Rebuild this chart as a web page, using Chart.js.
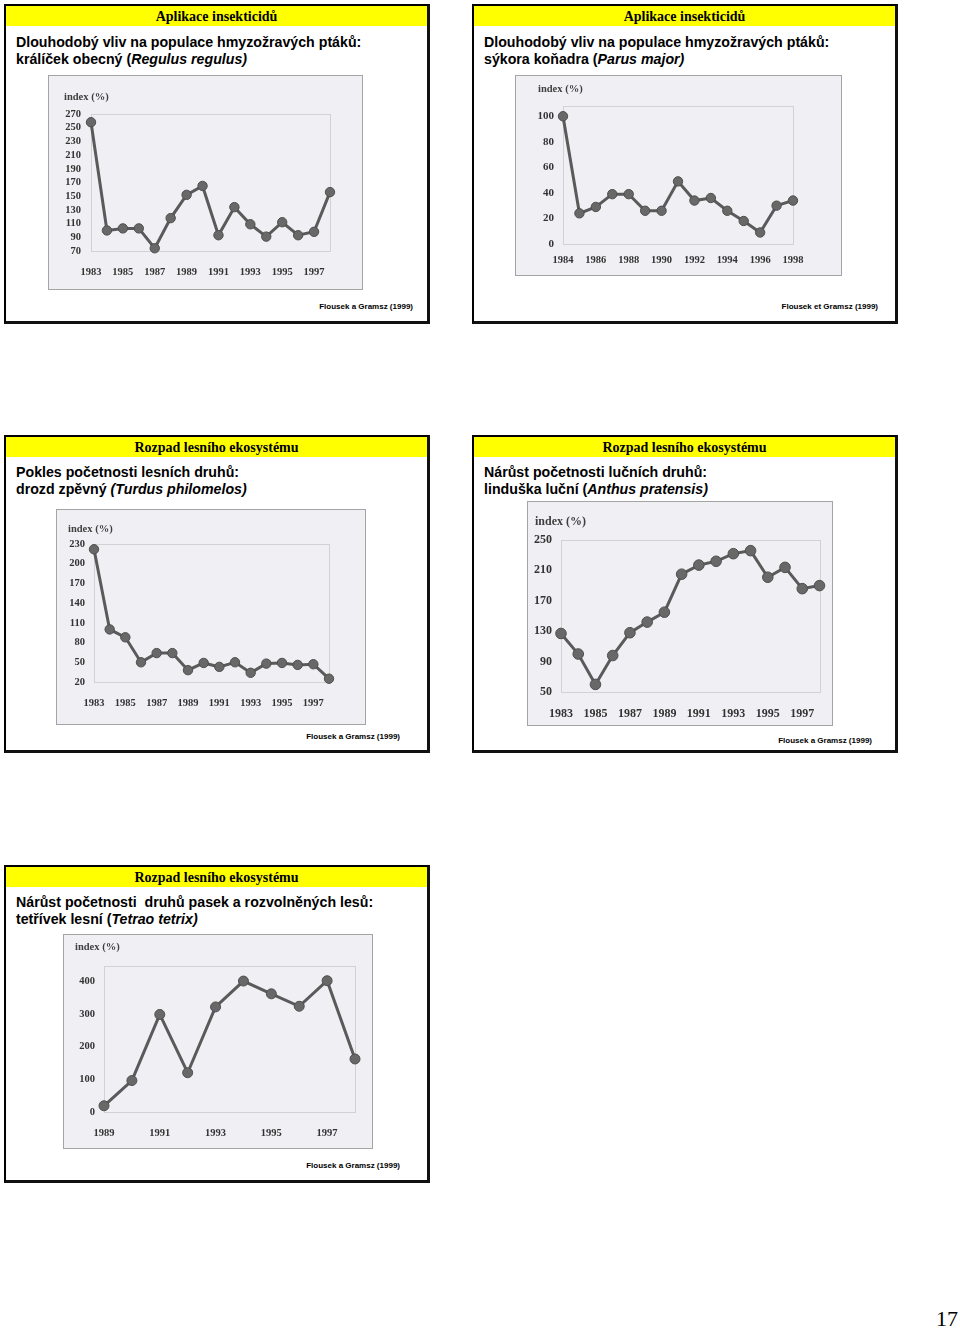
<!DOCTYPE html>
<html><head><meta charset="utf-8">
<script src="https://cdn.jsdelivr.net/npm/chart.js@4.4.1/dist/chart.umd.min.js"></script>
<style>
html,body{margin:0;padding:0;background:#fff;}
body{width:960px;height:1328px;position:relative;overflow:hidden;}
.panel{position:absolute;box-sizing:border-box;border-top:2px solid #000;border-left:2px solid #000;border-right:3px solid #111;border-bottom:3px solid #111;background:#fff;}
.hdr{position:absolute;left:0;right:0;top:0;height:20px;background:#ffff00;font:bold 14px "Liberation Serif","Times New Roman",serif;text-align:center;line-height:21px;color:#000;}
.body{position:absolute;left:10px;font:bold 14.2px "Liberation Sans",Arial,sans-serif;line-height:17px;color:#000;white-space:nowrap;}
.src{position:absolute;font:bold 8px "Liberation Sans",Arial,sans-serif;color:#000;white-space:nowrap;line-height:10px;}
.img{position:absolute;background:#f0eff3;box-sizing:border-box;border:1px solid #a4a4a4;}
.img canvas{position:absolute;left:0;top:0;}
.ylab{position:absolute;font:bold 10.5px "Liberation Serif","Times New Roman",serif;color:#3f3f3f;white-space:nowrap;line-height:12px;}
.pg{position:absolute;left:936px;top:1306px;font:22px "Liberation Serif","Times New Roman",serif;color:#000;}
</style></head>
<body>
<script>
// ---- data ----
const regulusYears = ['1983','1984','1985','1986','1987','1988','1989','1990','1991','1992','1993','1994','1995','1996','1997','1998'];
const regulusValues = [258,100,103,103,74,118,152,165,93,134,109,91,112,93,98,156];
const regulusTicks = [70,90,110,130,150,170,190,210,230,250,270];

const parusYears = ['1984','1985','1986','1987','1988','1989','1990','1991','1992','1993','1994','1995','1996','1997','1998'];
const parusValues = [100,24,29,39,39,26,26,49,34,36,26,18,9,30,34];
const parusTicks = [0,20,40,60,80,100];

const turdusYears = ['1983','1984','1985','1986','1987','1988','1989','1990','1991','1992','1993','1994','1995','1996','1997','1998'];
const turdusValues = [222,100,88,50,64,64,38,49,43,50,34,48,49,46,47,25];
const turdusTicks = [20,50,80,110,140,170,200,230];

const anthusYears = ['1983','1984','1985','1986','1987','1988','1989','1990','1991','1992','1993','1994','1995','1996','1997','1998'];
const anthusValues = [127,100,60,98,128,142,155,205,217,222,232,236,201,214,186,190];
const anthusTicks = [50,90,130,170,210,250];

const tetraoYears = ['1989','1990','1991','1992','1993','1994','1995','1996','1997','1998'];
const tetraoValues = [19,96,298,120,321,400,361,323,401,162];
const tetraoTicks = [0,100,200,300,400];

// ---- layout helpers ----
function el(tag, cls, style, html){
  const e=document.createElement(tag); if(cls) e.className=cls;
  Object.assign(e.style, style||{}); if(html!==undefined) e.innerHTML=html;
  document.body.appendChild(e); return e;
}
function panel(x,y,w,h,header,line1,line2,src,srcRight,srcY,bodyTop){
  const p=el('div','panel',{left:x+'px',top:y+'px',width:w+'px',height:h+'px'});
  const hd=document.createElement('div'); hd.className='hdr'; hd.textContent=header; p.appendChild(hd);
  const b=document.createElement('div'); b.className='body'; b.style.top=bodyTop+'px';
  b.innerHTML=line1+'<br>'+line2; p.appendChild(b);
  el('div','src',{right:(960-srcRight)+'px',top:(srcY-5)+'px'}).textContent=src;
}
const boxPlugin={id:'boxp',beforeDatasetsDraw(c){
  const a=c.chartArea,ctx=c.ctx; ctx.save(); ctx.strokeStyle='#d2d2d6'; ctx.lineWidth=1;
  ctx.strokeRect(Math.round(a.left)+0.5,Math.round(a.top)+0.5,Math.round(a.right-a.left),Math.round(a.bottom-a.top)); ctx.restore();}};

function makeChart(cfg){
  const b=cfg.box;
  const d=el('div','img',{left:b.x+'px',top:b.y+'px',width:b.w+'px',height:b.h+'px'});
  const cv=document.createElement('canvas'); cv.width=b.w; cv.height=b.h; d.appendChild(cv);
  el('div','ylab',{left:cfg.idx[0]+'px',top:(cfg.idx[1]-6)+'px',fontSize:(cfg.idxSize||10.5)+'px'}).textContent='index (%)';
  const font={family:'"Liberation Serif","Times New Roman",serif',weight:'bold',size:cfg.fs||10.5};
  const a=cfg.area;
  new Chart(cv,{
    type:'line',
    data:{labels:cfg.labels,datasets:[{data:cfg.values,borderColor:'#5a5a5a',borderWidth:3,tension:0,clip:false,
      pointRadius:cfg.pr||4.7,pointBackgroundColor:'#686868',pointBorderColor:'#4e4e4e',pointBorderWidth:1}]},
    options:{responsive:false,animation:false,events:[],
      plugins:{legend:{display:false},tooltip:{enabled:false},title:{display:false}},
      layout:{padding:{left:0,top:a.top,right:b.w-a.right,bottom:0}},
      scales:{
        x:{offset:false,grid:{display:false,drawTicks:false},border:{display:false},
          ticks:{autoSkip:false,maxRotation:0,minRotation:0,padding:cfg.xpad,font,color:'#333',
            callback:(v,i)=> i%2===0 ? cfg.labels[i] : ''},
          afterFit:s=>{s.height=b.h-a.bottom;}},
        y:{min:cfg.min,max:cfg.max,grid:{display:false,drawTicks:false},border:{display:false},
          afterBuildTicks:s=>{s.ticks=cfg.ticks.map(v=>({value:v}));},
          ticks:{autoSkip:false,padding:cfg.ypad||9,font:{...font,size:cfg.yfs||font.size},color:'#333'},
          afterFit:s=>{s.width=a.left;}}
      }},
    plugins:[boxPlugin]
  });
}

// ---- panels ----
panel(4,4,426,320,'Aplikace insekticidů','Dlouhodobý vliv na populace hmyzožravých ptáků:',
  'králíček obecný (<i>Regulus regulus)</i>','Flousek a Gramsz (1999)',413,307,28);
panel(472,4,426,320,'Aplikace insekticidů','Dlouhodobý vliv na populace hmyzožravých ptáků:',
  'sýkora koňadra (<i>Parus major)</i>','Flousek et Gramsz (1999)',878,307,28);
panel(4,435,426,318,'Rozpad lesního ekosystému','Pokles početnosti lesních druhů:',
  'drozd zpěvný <i>(Turdus philomelos)</i>','Flousek a Gramsz (1999)',400,737,27);
panel(472,435,426,318,'Rozpad lesního ekosystému','Nárůst početnosti lučních druhů:',
  'linduška luční (<i>Anthus pratensis)</i>','Flousek a Gramsz (1999)',872,741,27);
panel(4,865,426,318,'Rozpad lesního ekosystému','Nárůst početnosti &nbsp;druhů pasek a rozvolněných lesů:',
  'tetřívek lesní (<i>Tetrao tetrix)</i>','Flousek a Gramsz (1999)',400,1166,27);

// ---- charts ----
makeChart({box:{x:48,y:75,w:315,h:215},idx:[64,97],labels:regulusYears,values:regulusValues,ticks:regulusTicks,
  min:70,max:270,area:{left:42,top:38,right:281,bottom:175},xpad:14.5,ypad:10});
makeChart({box:{x:515,y:75,w:327,h:201},idx:[538,89],labels:parusYears,values:parusValues,ticks:parusTicks,
  min:0,max:108,area:{left:47,top:30,right:277,bottom:168},xpad:10,ypad:9,yfs:11});
makeChart({box:{x:56,y:509,w:310,h:216},idx:[68,529],labels:turdusYears,values:turdusValues,ticks:turdusTicks,
  min:20,max:230,area:{left:37,top:34,right:272,bottom:172},xpad:15,ypad:9});
makeChart({box:{x:527,y:501,w:306,h:225},idx:[535,521],idxSize:12,labels:anthusYears,values:anthusValues,ticks:anthusTicks,
  min:50,max:250,area:{left:33,top:38,right:298,bottom:190},xpad:14.5,ypad:9,fs:12,pr:5.3});
makeChart({box:{x:63,y:934,w:310,h:215},idx:[75,947],labels:tetraoYears,values:tetraoValues,ticks:tetraoTicks,
  min:0,max:446,area:{left:40,top:31,right:291,bottom:177},xpad:15,ypad:9,pr:5});

el('div','pg',{}).textContent='17';
</script>
</body></html>
